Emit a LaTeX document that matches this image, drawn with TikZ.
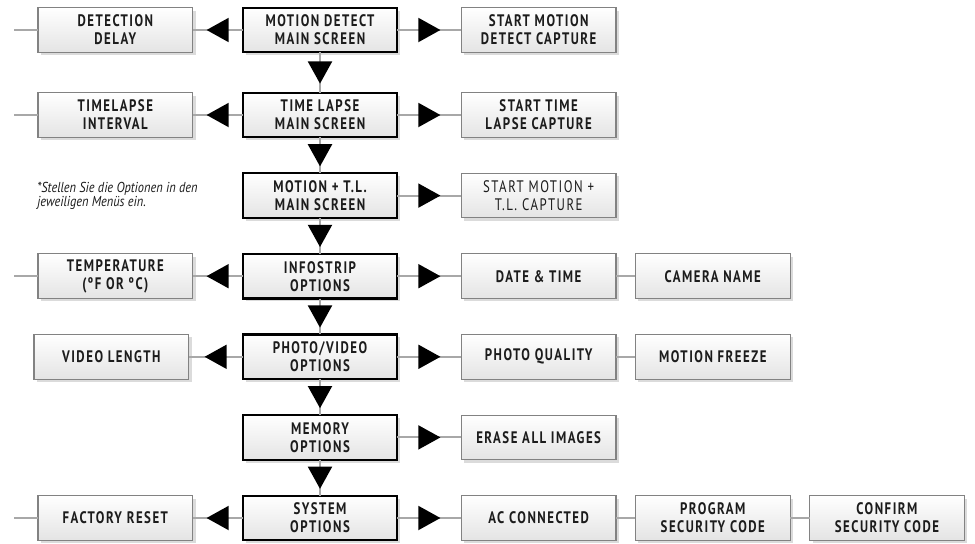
\documentclass[tikz,border=0pt]{standalone}
\usepackage{fontspec}
\setsansfont{PT Sans}[FakeStretch=0.77,LetterSpace=9]
\newfontfamily\notefont{PT Sans}[FakeStretch=0.86]
\usepackage{tikz}
\usetikzlibrary{arrows.meta,positioning,shadows,decorations.markings}
\usepackage{xcolor}

\definecolor{boxedge}{HTML}{828282}
\definecolor{boxfoot}{HTML}{E4E4E4}
\definecolor{linkgray}{HTML}{A8A8A8}
\definecolor{ink}{HTML}{1C1C1C}

\tikzset{
  menu/.style={draw=boxedge, line width=0.8pt, top color=white, bottom color=boxfoot,
    text=ink, minimum width=116pt, minimum height=33.5pt, align=center,
    inner sep=2pt, outer sep=0pt,
    font=\sffamily\bfseries\fontsize{12.5}{13.5}\selectfont,
    drop shadow={shadow xshift=2.2pt, shadow yshift=-2.2pt, fill=black!14, opacity=1}},
  main/.style={menu, draw=black, line width=1.7pt},
  link/.style={draw=linkgray, line width=1.4pt},
  tri/.style={link, postaction={decorate, decoration={markings,
      mark=at position .5 with {\fill[black] (8.3pt,0) -- (-8.3pt,9.2pt) -- (-8.3pt,-9.2pt) -- cycle;}}}},
}

\begin{document}
\begin{tikzpicture}[node distance=26.95pt and 37.5pt]
\useasboundingbox (0,0) rectangle (731.25pt,-407.25pt);

% main screens, top to bottom
\node[main] (mdmain) at (240pt,-22.5pt) {MOTION DETECT\\MAIN SCREEN};
\node[main, below=30.25pt of mdmain] (tlmain) {TIME LAPSE\\MAIN SCREEN};
\node[main, below=of tlmain] (mtlmain) {MOTION + T.L.\\MAIN SCREEN};
\node[main, below=of mtlmain] (infomain) {INFOSTRIP\\OPTIONS};
\node[main, below=of infomain] (pvmain) {PHOTO/VIDEO\\OPTIONS};
\node[main, below=of pvmain] (memmain) {MEMORY\\OPTIONS};
\node[main, below=of memmain] (sysmain) {SYSTEM\\OPTIONS};

% settings on the left
\node[menu, left=of mdmain] (ddelay) {DETECTION\\DELAY};
\node[menu, left=of tlmain] (tlint) {TIMELAPSE\\INTERVAL};
\node[menu, left=of infomain] (temp) {TEMPERATURE\\(ºF OR ºC)};
\node[menu, left=40.5pt of pvmain] (vlen) {VIDEO LENGTH};
\node[menu, left=of sysmain] (freset) {FACTORY RESET};

% settings on the right
\node[menu, right=48pt of mdmain] (mdcap) {START MOTION\\DETECT CAPTURE};
\node[menu, right=48pt of tlmain] (tlcap) {START TIME\\LAPSE CAPTURE};
\node[menu, right=48pt of mtlmain, font=\sffamily\mdseries\fontsize{12.5}{13.5}\selectfont] (mtlcap) {START MOTION +\\T.L. CAPTURE};
\node[menu, right=48pt of infomain] (datetime) {DATE \& TIME};
\node[menu, right=14.6pt of datetime] (camname) {CAMERA NAME};
\node[menu, right=48pt of pvmain] (quality) {PHOTO QUALITY};
\node[menu, right=14.6pt of quality] (freeze) {MOTION FREEZE};
\node[menu, right=48pt of memmain] (erase) {ERASE ALL IMAGES};
\node[menu, right=48pt of sysmain] (acconn) {AC CONNECTED};
\node[menu, right=14.6pt of acconn] (progcode) {PROGRAM\\SECURITY CODE};
\node[menu, right=14.6pt of progcode] (confcode) {CONFIRM\\SECURITY CODE};

\node[anchor=north west, inner sep=0pt, align=left, text=ink,
  font=\notefont\itshape\fontsize{10.8}{10.5}\selectfont] (note) at (27.75pt,-136.5pt)
  {*Stellen Sie die Optionen in den\\jeweiligen Menüs ein.};

% loose ends on the far left
\coordinate[left=18pt of ddelay] (ddin);
\coordinate[left=18pt of tlint] (tlin);
\coordinate[left=18pt of temp] (tempin);
\coordinate[left=18pt of freset] (resetin);

% connectors
\draw[tri] (mdmain) -- (tlmain);
\draw[tri] (tlmain) -- (mtlmain);
\draw[tri] (mtlmain) -- (infomain);
\draw[tri] (infomain) -- (pvmain);
\draw[tri] (pvmain) -- (memmain);
\draw[tri] (memmain) -- (sysmain);

\draw[tri] (mdmain) -- (ddelay);
\draw[tri] (tlmain) -- (tlint);
\draw[tri] (infomain) -- (temp);
\draw[tri] (pvmain) -- (vlen);
\draw[tri] (sysmain) -- (freset);

\draw[tri] (mdmain) -- (mdcap);
\draw[tri] (tlmain) -- (tlcap);
\draw[tri] (mtlmain) -- (mtlcap);
\draw[tri] (infomain) -- (datetime);
\draw[tri] (pvmain) -- (quality);
\draw[tri] (memmain) -- (erase);
\draw[tri] (sysmain) -- (acconn);

\draw[link] (datetime) -- (camname);
\draw[link] (quality) -- (freeze);
\draw[link] (acconn) -- (progcode);
\draw[link] (progcode) -- (confcode);

\draw[link] (ddin) -- (ddelay);
\draw[link] (tlin) -- (tlint);
\draw[link] (tempin) -- (temp);
\draw[link] (resetin) -- (freset);
\end{tikzpicture}
\end{document}
